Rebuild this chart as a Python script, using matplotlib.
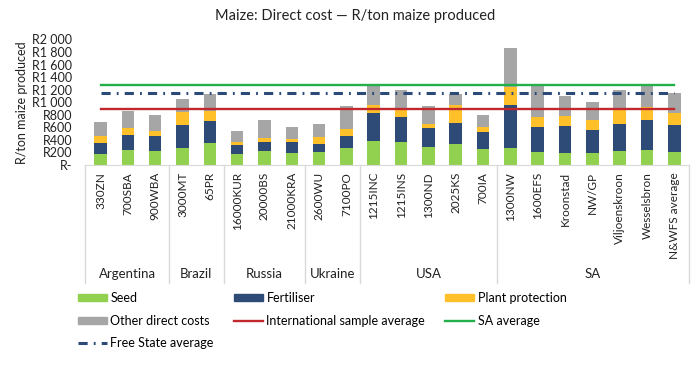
import numpy as np
import matplotlib
matplotlib.use("Agg")
import matplotlib.pyplot as plt
from matplotlib.lines import Line2D
from matplotlib.patches import Patch
from matplotlib.transforms import blended_transform_factory

plt.rcParams["font.family"] = ["Lato", "DejaVu Sans"]

# --- data (R/ton maize produced) ---
farms = ["330ZN", "700SBA", "900WBA", "3000MT", "65PR", "16000KUR", "20000BS",
         "21000KRA", "2600WU", "7100PO", "1215INC", "1215INS", "1300ND", "2025KS",
         "700IA", "1300NW", "1600EFS", "Kroonstad", "NW/GP", "Viljoenskroon",
         "Wesselsbron", "N&WFS average"]
countries = ["Argentina", "Brazil", "Russia", "Ukraine", "USA", "SA"]
country_sizes = [3, 2, 3, 2, 5, 7]

seed = [180, 244, 217, 265, 355, 180, 228, 196, 207, 265, 382, 361, 281, 340,
        260, 265, 212, 186, 186, 223, 233, 207]
fertiliser = [165, 239, 239, 377, 340, 144, 138, 170, 133, 197, 440, 408, 303,
              328, 265, 695, 388, 435, 376, 435, 488, 429]
plant_protection = [111, 101, 85, 201, 159, 42, 69, 48, 106, 116, 128, 101, 74,
                    282, 75, 281, 164, 154, 149, 212, 202, 186]
other = [228, 270, 249, 202, 281, 170, 286, 186, 201, 361, 310, 318, 276, 185,
         190, 621, 530, 318, 286, 324, 371, 324]

intl_avg = 885
sa_avg = 1270
fs_avg = 1145

C_SEED = "#92D050"
C_FERT = "#2E4A76"
C_PP = "#FFC02A"
C_OTHER = "#A6A6A6"
C_RED = "#C0282D"
C_GREEN = "#22B04B"
C_NAVY = "#2B4A78"
TXT = "#222222"
FS_DASH = (0, (3.0, 2.0, 0.6, 2.0))

fig = plt.figure(figsize=(7, 3.72), dpi=100)
ax = fig.add_axes([85 / 700, (372 - 165) / 372, (689 - 85) / 700, (165 - 39.5) / 372])

x = np.arange(len(farms))
w = 0.46
b1 = np.array(seed)
b2 = b1 + np.array(fertiliser)
b3 = b2 + np.array(plant_protection)
ax.bar(x, seed, w, color=C_SEED)
ax.bar(x, fertiliser, w, bottom=b1, color=C_FERT)
ax.bar(x, plant_protection, w, bottom=b2, color=C_PP)
ax.bar(x, other, w, bottom=b3, color=C_OTHER)

xs = [x[0], x[-1]]
ax.plot(xs, [intl_avg] * 2, color=C_RED, lw=1.7)
ax.plot(xs, [sa_avg] * 2, color=C_GREEN, lw=1.7)
ax.plot(xs, [fs_avg] * 2, color=C_NAVY, lw=2.2, linestyle=FS_DASH)

ax.set_xlim(-0.57, len(farms) - 1 + 0.54)
ax.set_ylim(0, 2000)
yt = np.arange(0, 2001, 200)
ax.set_yticks(yt)
ax.set_yticklabels(["R-" if v == 0 else "R" + f"{v:,}".replace(",", " ") for v in yt],
                   fontsize=9, color=TXT)
ax.set_xticks(x)
ax.set_xticklabels(farms, rotation=90, fontsize=8.5, color=TXT)
ax.tick_params(axis="both", length=0)
ax.tick_params(axis="y", pad=9)
ax.tick_params(axis="x", pad=5)
for s in ["top", "right", "left"]:
    ax.spines[s].set_visible(False)
ax.spines["bottom"].set_color("#D9D9D9")
ax.set_ylabel("R/ton maize produced", fontsize=9, color=TXT, labelpad=3)

# group boxes under the axis
tr = blended_transform_factory(ax.transData, fig.transFigure)
y_top = (372 - 165) / 372
y_bot = (372 - 283) / 372
edges = np.concatenate([[0], np.cumsum(country_sizes)])
for i, e in enumerate(edges):
    if i == 0:
        xe = -0.57
    elif i == len(edges) - 1:
        xe = len(farms) - 1 + 0.54
    else:
        xe = e - 0.5
    fig.add_artist(Line2D([xe, xe], [y_top, y_bot], transform=tr, color="#D9D9D9", lw=1))
for i, c in enumerate(countries):
    cx = (edges[i] + edges[i + 1] - 1) / 2
    fig.text(cx, (372 - 274) / 372, c, transform=tr, ha="center", va="center",
             fontsize=9.5, color=TXT)

fig.text(355 / 700, 1 - 16 / 372, "Maize: Direct cost \u2014 R/ton maize produced",
         ha="center", va="center", fontsize=10.5, color=TXT)

handles = [
    Patch(color=C_SEED, label="Seed"),
    Patch(color=C_OTHER, label="Other direct costs"),
    Line2D([0], [0], color=C_NAVY, lw=2.2, linestyle=FS_DASH, label="Free State average"),
    Patch(color=C_FERT, label="Fertiliser"),
    Line2D([0], [0], color=C_RED, lw=1.7, label="International sample average"),
    Patch(color=C_PP, label="Plant protection"),
    Line2D([0], [0], color=C_GREEN, lw=1.7, label="SA average"),
]
fig.legend(handles=handles, ncol=3, loc="upper left",
           bbox_to_anchor=(78 / 700, 1 - 292 / 372), frameon=False,
           fontsize=9, handlelength=2.3, handleheight=0.45, handletextpad=0.3,
           columnspacing=1.6, labelspacing=0.85, borderpad=0, borderaxespad=0)

fig.savefig("out.png", dpi=100, facecolor="white")
